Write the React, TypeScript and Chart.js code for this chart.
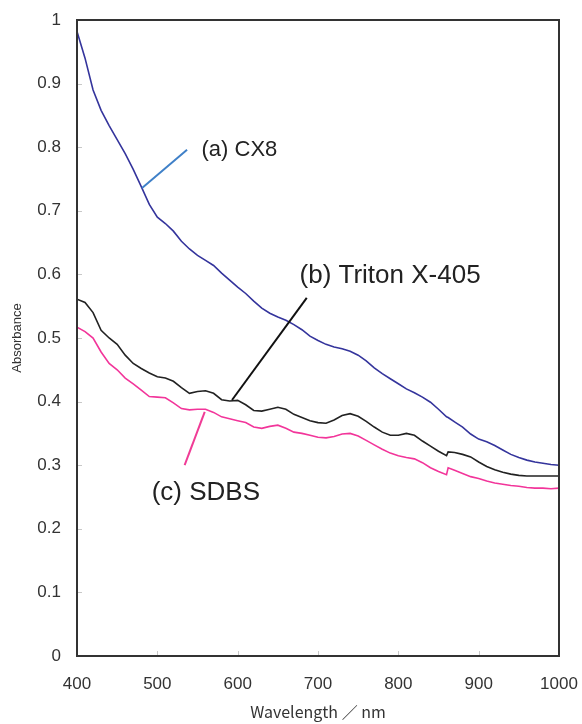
import React, { useEffect, useRef } from "react";
import { Chart, registerables } from "chart.js";

Chart.register(...registerables);

const wavelengths = [
  400, 410, 420, 430, 440, 450, 460, 470, 480, 490, 500, 510, 520, 530, 540, 550, 560, 570, 580, 590,
  600, 610, 620, 630, 640, 650, 660, 670, 680, 690, 700, 710, 720, 730, 740, 750, 760, 770, 780, 790,
  800, 810, 820, 830, 840, 850, 860, 862, 870, 880, 890, 900, 910, 920, 930, 940, 950, 960, 970, 980,
  990, 1000,
];

const cx8 = [
  0.982, 0.94, 0.89, 0.858, 0.834, 0.812, 0.79, 0.765, 0.738, 0.71, 0.69, 0.68, 0.668, 0.652, 0.64, 0.63, 0.622, 0.614, 0.602, 0.591,
  0.58, 0.57, 0.558, 0.547, 0.539, 0.533, 0.528, 0.521, 0.513, 0.503, 0.496, 0.49, 0.486, 0.483, 0.479, 0.473, 0.464, 0.453, 0.444, 0.436,
  0.428, 0.42, 0.414, 0.407, 0.399, 0.388, 0.376, 0.375, 0.368, 0.36, 0.349, 0.341, 0.337, 0.331, 0.324, 0.317, 0.312, 0.308, 0.305, 0.303,
  0.301, 0.3,
];

const tritonX405 = [
  0.561, 0.556, 0.54, 0.512, 0.5, 0.49, 0.473, 0.46, 0.452, 0.445, 0.439, 0.437, 0.432, 0.422, 0.413, 0.416, 0.417, 0.413, 0.403, 0.401,
  0.402, 0.395, 0.386, 0.385, 0.388, 0.391, 0.388, 0.38, 0.375, 0.37, 0.367, 0.366, 0.371, 0.378, 0.381, 0.377, 0.369, 0.36, 0.352, 0.347,
  0.347, 0.35, 0.347, 0.338, 0.33, 0.322, 0.315, 0.321, 0.32, 0.317, 0.313, 0.305, 0.298, 0.293, 0.289, 0.286, 0.284, 0.283, 0.283, 0.283,
  0.283, 0.283,
];

const sdbs = [
  0.517, 0.51, 0.5, 0.478, 0.46, 0.45, 0.437, 0.428, 0.418, 0.408, 0.407, 0.406, 0.398, 0.389, 0.387, 0.388, 0.388, 0.383, 0.376, 0.373,
  0.37, 0.367, 0.36, 0.358, 0.361, 0.363, 0.358, 0.352, 0.35, 0.347, 0.344, 0.343, 0.345, 0.349, 0.35, 0.346, 0.339, 0.332, 0.325, 0.319,
  0.315, 0.312, 0.31, 0.304, 0.296, 0.29, 0.285, 0.296, 0.292, 0.287, 0.282, 0.279, 0.275, 0.272, 0.27, 0.268, 0.267, 0.265, 0.264, 0.264,
  0.263, 0.264,
];

const seriesLabels = ["(a) CX8", "(b) Triton X-405", "(c) SDBS"];
const seriesColors = ["#34349c", "#222222", "#f2359a"];
const leaderColors = ["#3f80c8", "#111111", "#f03c96"];

// leader line endpoints (data coords) and label anchors (data coords)
const leaderFromX = [481, 593, 559];
const leaderFromY = [0.736, 0.4025, 0.384];
const leaderToX = [537, 686, 534];
const leaderToY = [0.796, 0.563, 0.3];
const labelX = [555, 677, 493];
const labelY = [0.796, 0.597, 0.257];
const labelSizes = [22, 26, 26];

const xTicks = [400, 500, 600, 700, 800, 900, 1000];
const yTicks = [0, 0.1, 0.2, 0.3, 0.4, 0.5, 0.6, 0.7, 0.8, 0.9, 1];

const framePlugin = {
  id: "framePlugin",
  afterDatasetsDraw(chart: any) {
    const { ctx, chartArea, scales } = chart;
    const xs = scales.x;
    const ys = scales.y;
    ctx.save();
    // inward ticks
    ctx.strokeStyle = "#c8c8c8";
    ctx.lineWidth = 1;
    yTicks.forEach((v) => {
      const py = Math.round(ys.getPixelForValue(v)) + 0.5;
      ctx.beginPath();
      ctx.moveTo(chartArea.left, py);
      ctx.lineTo(chartArea.left + 5, py);
      ctx.stroke();
    });
    xTicks.forEach((v) => {
      const px = Math.round(xs.getPixelForValue(v)) + 0.5;
      ctx.beginPath();
      ctx.moveTo(px, chartArea.bottom);
      ctx.lineTo(px, chartArea.bottom - 5);
      ctx.stroke();
    });
    // frame
    ctx.strokeStyle = "#333333";
    ctx.lineWidth = 2;
    ctx.strokeRect(chartArea.left, chartArea.top, chartArea.right - chartArea.left, chartArea.bottom - chartArea.top);
    // leaders and labels
    seriesLabels.forEach((label, i) => {
      ctx.strokeStyle = leaderColors[i];
      ctx.lineWidth = 2;
      ctx.beginPath();
      ctx.moveTo(xs.getPixelForValue(leaderFromX[i]), ys.getPixelForValue(leaderFromY[i]));
      ctx.lineTo(xs.getPixelForValue(leaderToX[i]), ys.getPixelForValue(leaderToY[i]));
      ctx.stroke();
      ctx.fillStyle = "#222222";
      ctx.font = `${labelSizes[i]}px "Liberation Sans", Arial, sans-serif`;
      ctx.textAlign = "left";
      ctx.textBaseline = "middle";
      ctx.fillText(label, xs.getPixelForValue(labelX[i]), ys.getPixelForValue(labelY[i]));
    });
    ctx.restore();
  },
};

export default function App() {
  const canvasRef = useRef<HTMLCanvasElement | null>(null);

  useEffect(() => {
    document.body.style.margin = "0";
    const canvas = canvasRef.current;
    if (!canvas) return;
    const mk = (vals: number[]) => wavelengths.map((w, i) => ({ x: w, y: vals[i] }));
    const chart = new Chart(canvas, {
      type: "line",
      data: {
        datasets: [
          { label: seriesLabels[0], data: mk(cx8), borderColor: seriesColors[0], borderWidth: 1.6, pointRadius: 0, tension: 0 },
          { label: seriesLabels[1], data: mk(tritonX405), borderColor: seriesColors[1], borderWidth: 1.6, pointRadius: 0, tension: 0 },
          { label: seriesLabels[2], data: mk(sdbs), borderColor: seriesColors[2], borderWidth: 1.6, pointRadius: 0, tension: 0 },
        ],
      },
      options: {
        animation: false,
        responsive: false,
        devicePixelRatio: 1,
        layout: { padding: { left: 0, top: 20, right: 23, bottom: 0 } },
        plugins: { legend: { display: false }, tooltip: { enabled: false } },
        scales: {
          x: {
            type: "linear",
            min: 400,
            max: 1000,
            afterBuildTicks: (scale: any) => {
              scale.ticks = xTicks.map((v) => ({ value: v }));
            },
            afterFit: (scale: any) => {
              scale.height = 68;
              scale.paddingLeft = 0;
              scale.paddingRight = 0;
            },
            grid: { display: false, drawTicks: false },
            border: { display: false },
            ticks: {
              padding: 18,
              color: "#333333",
              font: { size: 17, family: '"Liberation Sans", Arial, sans-serif' },
              maxRotation: 0,
              callback: (v: any) => String(v),
            },
            title: {
              display: true,
              text: "Wavelength ／ nm",
              color: "#333333",
              font: { size: 16, family: '"Noto Sans CJK JP", "Liberation Sans", sans-serif' },
              padding: { top: 0, bottom: 2 },
            },
          },
          y: {
            type: "linear",
            min: 0,
            max: 1,
            afterBuildTicks: (scale: any) => {
              scale.ticks = yTicks.map((v) => ({ value: v }));
            },
            afterFit: (scale: any) => {
              scale.width = 77;
              scale.paddingTop = 0;
              scale.paddingBottom = 0;
            },
            grid: { display: false, drawTicks: false },
            border: { display: false },
            ticks: {
              padding: 16,
              color: "#333333",
              font: { size: 17, family: '"Liberation Sans", Arial, sans-serif' },
              callback: (v: any) => String(Math.round(Number(v) * 10) / 10),
            },
            title: {
              display: true,
              text: "Absorbance",
              color: "#333333",
              font: { size: 13, family: '"Liberation Sans", Arial, sans-serif' },
              padding: { top: 10, bottom: 0 },
            },
          },
        },
      },
      plugins: [framePlugin],
    });
    return () => chart.destroy();
  }, []);

  return (
    <div style={{ width: 582, height: 724 }}>
      <canvas ref={canvasRef} width={582} height={724} style={{ display: "block" }} />
    </div>
  );
}
